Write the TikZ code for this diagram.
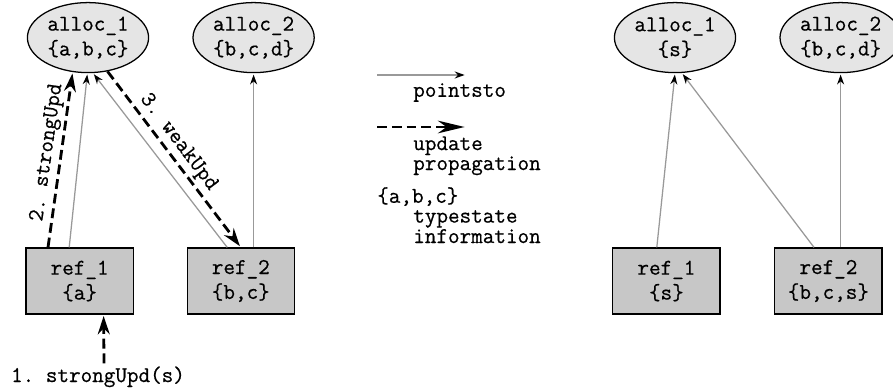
\documentclass[tikz,border=0pt]{standalone}
\usepackage{fontspec}
\setmonofont{Latin Modern Mono}[FakeBold=0.6]
\usetikzlibrary{arrows.meta,positioning,shapes}

\tikzset{
	alloc/.style={ellipse, draw, line width=0.9pt, fill=black!10, minimum width=3.03cm,
		minimum height=1.75cm, inner sep=1pt, align=center},
	ref/.style={rectangle, draw, line width=0.9pt, fill=black!22, minimum width=2.68cm,
		minimum height=1.65cm, align=center},
	pt/.style={->, draw=black!40, line width=0.9pt, >={Stealth[black,length=7pt,width=5pt]}},
	upd/.style={->, dash pattern=on 7pt off 3.5pt, line width=2pt,
		>={Stealth[length=13pt,width=8.5pt]}},
	legend/.style={anchor=base west, inner sep=0pt, align=left,
		font=\ttfamily\fontsize{16}{12.6}\selectfont}
}

\begin{document}
\begin{tikzpicture} [shorten >=1pt, auto, font=\ttfamily\fontsize{16}{17.7}\selectfont]
	\useasboundingbox (0,0) rectangle (22.325,9.75);

	% before the update
	\node[alloc] (a1) at (2.2,8.81) {alloc\_1\\\{a,b,c\}};
	\node[alloc, right of=a1, node distance=4.14cm] (a2) {alloc\_2\\\{b,c,d\}};
	\node[ref] (r1) at (1.99,2.725) {ref\_1\\\{a\}};
	\node[ref, right of=r1, node distance=4.03cm] (r2) {ref\_2\\\{b,c\}};
	\node[inner sep=2pt] (upd) at (2.45,0.33) {1. strongUpd(s)};

	\path
	([xshift=-0.26cm]r1.north) edge[pt] (a1.269)
	([xshift=-0.34cm]r2.north) edge[pt] (a1.278)
	(r2.north -| a2) edge[pt] (a2);

	\draw[upd] ([xshift=0.15cm]upd.north) -- ([xshift=0.6cm]r1.south);
	\path
	([xshift=-0.79cm]r1.north) edge[upd] node[sloped, inner sep=2pt, pos=0.53] {2. strongUpd} (a1.246)
	(a1.300) edge[upd] node[sloped, inner sep=2pt, pos=0.45] {3. weakUpd} (r2.north);

	% legend
	\coordinate (l1) at (9.425,7.875);
	\coordinate (l2) at (11.65,7.875);
	\coordinate (l3) at (9.425,6.575);
	\coordinate (l4) at (11.65,6.575);
	\draw[pt] (l1) -- (l2);
	\node[legend] (lpt) at (10.325,7.33) {pointsto};
	\draw[upd, >={Stealth[length=19pt,width=9pt]}] (l3) -- (l4);
	\node[legend] (lupd) at (10.325,5.5) {update\\propagation};
	\node[legend] (lts) at (9.425,4.68) {\{a,b,c\}};
	\node[legend] (ltsi) at (10.325,3.675) {typestate\\information};

	% after the update
	\node[alloc] (b1) at (16.875,8.81) {alloc\_1\\\{s\}};
	\node[alloc, right of=b1, node distance=4.14cm] (b2) {alloc\_2\\\{b,c,d\}};
	\node[ref] (s1) at (16.66,2.725) {ref\_1\\\{s\}};
	\node[ref, right of=s1, node distance=4.05cm] (s2) {ref\_2\\\{b,c,s\}};

	\path
	([xshift=-0.24cm]s1.north) edge[pt] (b1.270)
	([xshift=-0.36cm]s2.north) edge[pt] (b1.281)
	(s2.north -| b2) edge[pt] (b2);
\end{tikzpicture}
\end{document}
